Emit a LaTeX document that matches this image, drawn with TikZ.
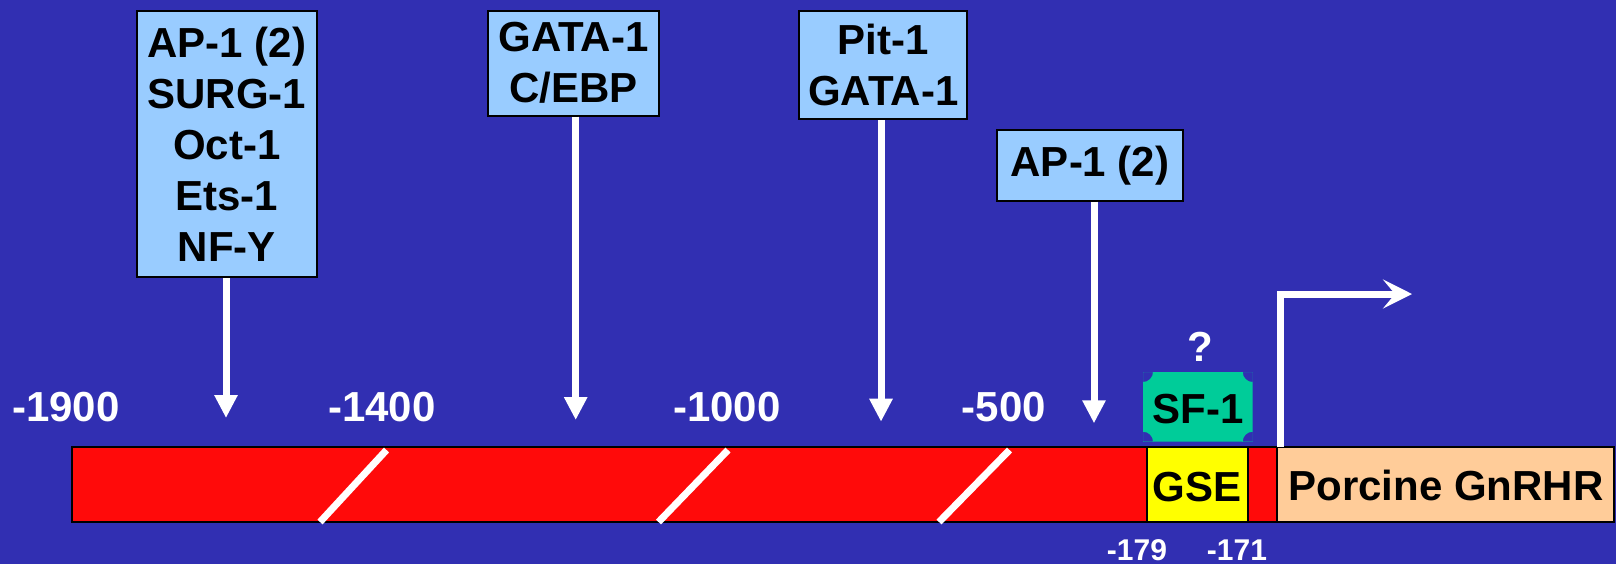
\documentclass[tikz,border=0pt]{standalone}
\usepackage{fontspec}
\setmainfont{Liberation Sans}
\usetikzlibrary{arrows.meta}
\definecolor{bg}{RGB}{49,47,178}
\definecolor{tfbox}{RGB}{153,204,255}
\definecolor{barred}{RGB}{255,10,10}
\definecolor{gse}{RGB}{255,255,0}
\definecolor{porc}{RGB}{255,204,153}
\definecolor{sfc}{RGB}{0,204,153}
\newcommand{\bigtxt}{\fontsize{21pt}{25.5pt}\selectfont\bfseries}
\newcommand{\smalltxt}{\fontsize{15pt}{18pt}\selectfont\bfseries}
\begin{document}
\begin{tikzpicture}[x=0.5pt,y=-0.5pt,
  tf/.style={draw=black,line width=1pt,fill=tfbox,align=center,inner sep=0pt,font=\bigtxt,text=black},
  tfarrow/.style={draw=white,line width=3.5pt,-{Triangle[length=11.5pt,width=11pt]}},
  lbl/.style={font=\bigtxt,text=white,inner sep=0pt,anchor=base},
  slbl/.style={font=\smalltxt,text=white,inner sep=0pt,anchor=base},
  barlbl/.style={font=\bigtxt,text=black,inner sep=0pt,anchor=base},
  slash/.style={draw=white,line width=3.5pt},
  seg/.style={draw=black,line width=1pt}]
\fill[bg] (0,0) rectangle (1616,564);
\useasboundingbox (0,0) rectangle (1616,564);

% transcription factor boxes
\node[tf,minimum width=90pt,minimum height=133.3pt] (b1) at (226.7,144) {AP-1 (2)\\SURG-1\\Oct-1\\Ets-1\\NF-Y};
\node[tf,minimum width=85.8pt,minimum height=52.5pt] (b2) at (573.5,63.2) {GATA-1\\C/EBP};
\node[tf,minimum width=84pt,minimum height=54.2pt] (b3) at (883.3,64.9) {Pit-1\\GATA-1};
\node[tf,minimum width=92.7pt,minimum height=35.3pt] (b4) at (1090,165.3) {AP-1 (2)};

% arrow tips
\coordinate (t1) at (226,418);
\coordinate (t2) at (575.7,420);
\coordinate (t3) at (881,421.7);
\coordinate (t4) at (1094,423.3);
\draw[tfarrow] (b1.south -| t1) -- (t1);
\draw[tfarrow] (b2.south -| t2) -- (t2);
\draw[tfarrow] (b3.south -| t3) -- (t3);
\draw[tfarrow] (b4.south -| t4) -- (t4);

% position labels
\node[lbl] (p1900) at (66,421.7) {-1900};
\node[lbl] (p1400) at (382,421.7) {-1400};
\node[lbl] (p1000) at (727,421.7) {-1000};
\node[lbl] (p500) at (1004,421.7) {-500};

% SF-1 plaque
\begin{scope}
\clip (1143,372) rectangle (1252.7,441.7);
\fill[sfc,even odd rule] (1143,372) rectangle (1252.7,441.7)
  (1143,372) circle[radius=5pt] (1252.7,372) circle[radius=5pt]
  (1143,441.7) circle[radius=5pt] (1252.7,441.7) circle[radius=5pt];
\end{scope}
\node[barlbl] (sf) at (1198,423) {SF-1};
\node[lbl] (q) at (1200,361.7) {?};

% promoter bar
\draw[seg,fill=barred] (72,447) rectangle (1277,522);
\draw[seg,fill=gse] (1146.7,447) rectangle (1248,522);
\draw[seg,fill=porc] (1277,447) rectangle (1614,522);
\node[barlbl] (gse) at (1197.3,501.7) {GSE};
\node[barlbl] (gnrhr) at (1446,500) {Porcine GnRHR};

% break marks
\draw[slash] (320,522) -- (386.5,450);
\draw[slash] (658.5,522) -- (728,450);
\draw[slash] (939,522) -- (1009.5,450);

% bottom labels
\node[slbl] (p179) at (1137,560.5) {-179};
\node[slbl] (p171) at (1237,560.5) {-171};

% transcription start arrow
\coordinate (tss) at (1280,447);
\coordinate (tsend) at (1412,294);
\draw[white,line width=3.5pt,line join=miter,-{Stealth[length=14.5pt,width=14.5pt,inset=6pt]}] (tss) |- (tsend);
\end{tikzpicture}
\end{document}
